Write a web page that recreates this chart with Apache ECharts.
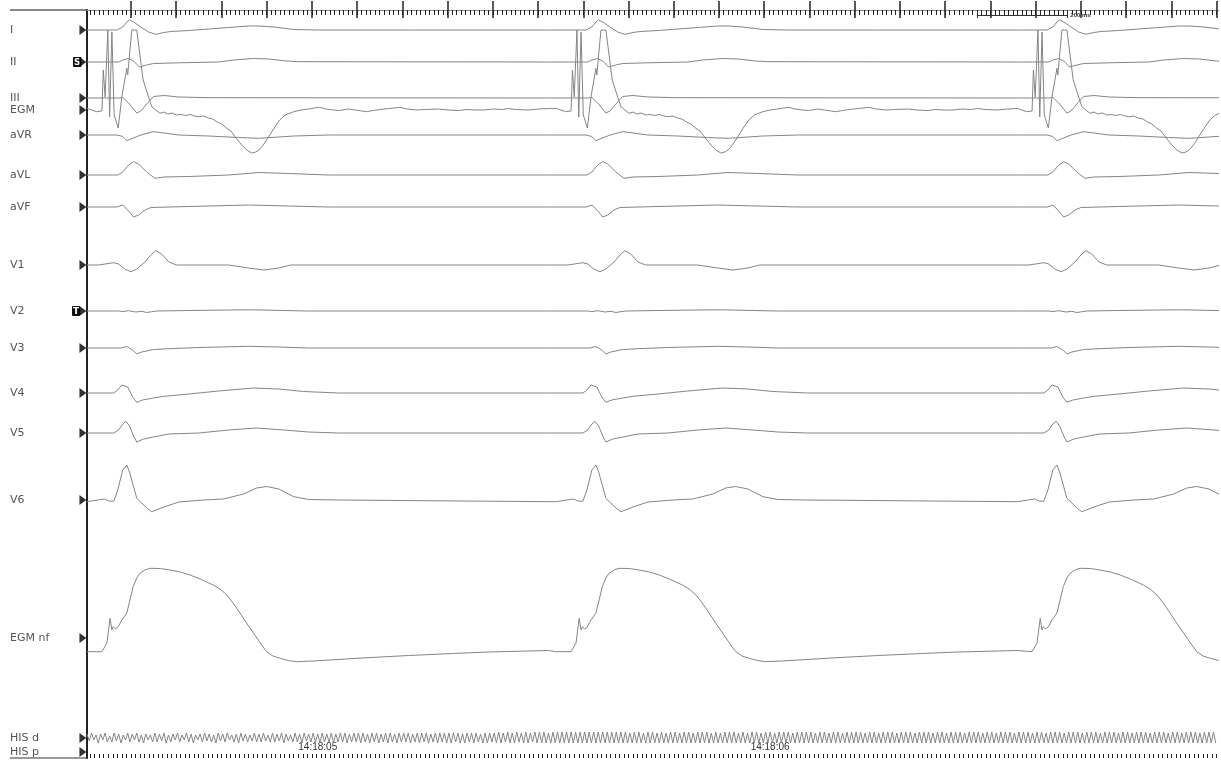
<!DOCTYPE html>
<html>
<head>
<meta charset="utf-8">
<script src="https://cdn.jsdelivr.net/npm/echarts@6/dist/echarts.min.js"></script>
<style>
  html, body { margin: 0; padding: 0; background: #fff; }
  #chart { width: 1221px; height: 761px; }
</style>
</head>
<body>
<div id="chart"></div>
<script>
  // channels, top to bottom
  const channelNames = ['I', 'II', 'III', 'EGM', 'aVR', 'aVL', 'aVF', 'V1', 'V2', 'V3', 'V4', 'V5', 'V6', 'EGM nf', 'HIS d', 'HIS p']
  // pacing spike of each beat, ms from left edge of the strip
  const beatTimes = [48, 1085, 2104]
  // one beat per channel: [ms from spike, deflection (up +)]
  const leadI = [[-48, 0], [18, 0], [22, 0.5], [31, 3], [40, 8], [46, 10], [55, 8], [71, 3], [88, -2], [104, -4.3], [122, -2.5], [137, -1.5], [177, -0.5], [221, 1], [265, 2.5], [309, 4], [332, 4], [365, 3], [409, 0.5], [464, 0], [663, 0], [972, 0]]
  const leadII = [[-48, 0], [22, 0], [31, 2], [44, 3.5], [55, 1], [68, -5], [84, -3], [99, -1.5], [155, -0.8], [243, 0], [276, 2], [320, 3.5], [354, 3], [393, 1], [420, 0.3], [972, 0]]
  const leadIII = [[-48, 0], [22, 0], [31, 0.5], [44, -5], [62, -15], [71, -13], [84, -6], [99, 1.5], [122, 2.5], [155, 1], [221, 0.3], [972, 0]]
  const egm = [[-48, 1.7], [-27, -1.7], [-15, -1], [-12, 40], [-8, 13], [-2, 80], [2, -7], [7, 78], [12, -5], [21, -18], [29, 13], [40, 41.7], [42, 35], [51, 80], [62, 80], [76, 30], [95, 3.3],
    [113, -3.3], [122, -2], [130, -4], [140, -3], [150, -5], [160, -4.5], [170, -5.5], [180, -4.5], [190, -6], [200, -6.7], [210, -6], [220, -8], [230, -9], [240, -12], [250, -14], [260, -18], [270, -21], [280, -27],
    [294, -35], [305, -40], [316, -43], [325, -42], [332, -40], [340, -36], [349, -30], [360, -22], [370, -15], [378, -10], [390, -5], [409, -1.7], [425, 0], [442, 1], [455, 2], [466, 2.7], [480, 1], [497, 0],
    [510, -0.5], [530, 1], [545, 0], [560, -1], [570, -1.7], [585, -0.5], [600, 0.5], [620, 1.5], [643, 2.7], [660, 1], [681, 0], [700, 0.5], [729, 1], [750, 0], [774, -0.5], [790, 0.5], [810, 0], [829, 0],
    [850, 1], [870, 0.5], [884, 1.5], [900, 0.5], [928, 0], [950, 1], [972, 1.5]]
  const aVR = [[-48, 0], [18, 0], [31, -1.5], [40, -5.7], [49, -4], [71, 0], [99, 3.3], [122, 2], [155, 0], [221, -1], [287, -2.5], [332, -3.3], [376, -2], [409, -1], [486, 0], [972, 0]]
  const aVL = [[-48, 0], [20, 0], [31, 3], [44, 10], [55, 13.3], [66, 11], [84, 3], [102, -3.3], [122, -2], [177, -1.5], [265, 0], [332, 2.5], [398, 1.5], [486, 0], [972, 0]]
  const aVF = [[-48, 0], [18, 0], [31, 2], [44, -4], [55, -10], [66, -8], [80, -3], [93, -0.5], [177, 0.5], [309, 2], [398, 1], [486, 0], [972, 0]]
  const v1 = [[-48, 0], [-22, 0], [11, 2.3], [22, 1], [35, -4], [49, -6.7], [62, -4], [80, 3], [93, 10], [104, 14.3], [117, 11], [133, 3], [150, 0], [265, 0], [309, -3], [343, -5], [376, -3], [402, 0], [972, 0]]
  const v2 = [[-48, 0], [22, 0], [31, -0.6], [44, 0.3], [60, -1], [73, -0.3], [84, -1.5], [95, -0.7], [106, 0], [177, 0.5], [265, 1], [320, 1.2], [387, 0.5], [442, 0], [972, 0]]
  const v3 = [[-48, 0], [27, 0], [40, 1.5], [53, -2], [62, -6], [73, -4], [99, -1.5], [133, -0.7], [199, 0.5], [309, 1.7], [376, 1], [442, 0], [972, 0]]
  const v4 = [[-48, 0], [11, 0], [20, 3], [29, 8], [33, 9.3], [42, 6], [53, -4], [62, -9.3], [75, -7], [99, -5], [122, -3.3], [177, -1], [243, 2], [320, 5], [376, 4], [431, 1.5], [508, 0], [972, 0]]
  const v5 = [[-48, 0], [11, 0], [22, 3], [31, 9], [38, 11.7], [46, 7], [55, -3], [62, -9], [77, -6], [99, -4], [133, -1], [199, 0], [265, 3], [327, 5], [387, 3], [442, 1], [508, 0], [972, 0]]
  const v6 = [[-48, -1.7], [-18, 0.5], [-9, 1], [0, -1], [11, -1.3], [20, 10], [31, 30], [40, 35], [46, 28], [57, 10], [62, 1.7], [73, -3], [84, -8], [95, -11.7], [122, -7], [155, -2], [210, 0], [254, 1], [298, 6], [327, 12], [349, 13.5], [376, 11], [409, 3.3], [442, 0.5], [508, 0], [972, -1.7]]
  const egmNf = [[-48, -13.7], [-15, -13.7], [-4, -5], [3, 19.7], [7, 8], [10, 11.3], [15, 9], [21, 11.3], [29, 18], [40, 25], [54, 51.3], [62, 60], [69, 64.7], [80, 68], [91, 69.7], [114, 69.5], [135, 68],
    [158, 66], [180, 63], [202, 59], [231, 53], [246, 49], [261, 43], [275, 35], [290, 25], [306, 14], [320, 5], [335, -5], [349, -13.7], [363, -18], [379, -20.3], [397, -22.5], [415, -23.7], [451, -23], [488, -22],
    [560, -20], [663, -17.5], [760, -15.5], [840, -14], [972, -12.5]]
  // HIS d, sampled every 5 ms
  const hisStep = 5
  const hisD = [
    4, -3, 5, -2, 3, -5, 4, -2, 5, -4, 2, -4, 5, -3, 4, -5, 3, -2, 5, -4,
    4, -2, 5, -4, 3, -5, 4, -2, 3, -4, 5, -4, 4, -3, 5, -5, 3, -4, 4, -2,
    5, -4, 3, -2, 5, -4, 4, -5, 3, -2, 4, -4, 5, -3, 4, -4, 3, -5, 5, -3,
    4, -4, 5, -2, 3, -4, 4, -5, 5, -3, 4, -4, 3, -3, 5, -4, 4, -4, 5, -3,
    3, -4, 5, -4, 4, -3, 5, -5, 4, -3, 3, -4, 5, -4, 4, -5, 5, -3, 4, -4,
    5, -4, 4, -5, 5, -4, 4, -4, 5, -5, 4, -4, 5, -4, 5, -5, 4, -4, 5, -4,
    5, -5, 5, -4, 4, -5, 5, -4, 5, -5, 4, -4, 5, -5, 5, -4, 4, -5, 5, -4,
    5, -4, 5, -5, 4, -4, 5, -5, 5, -4, 5, -5, 4, -4, 5, -5, 5, -4, 5, -5,
    5, -5, 5, -4, 5, -5, 4, -5, 5, -4, 5, -5, 5, -4, 4, -5, 5, -5, 5, -4,
    5, -5, 6, -5, 5, -4, 6, -5, 5, -5, 6, -4, 5, -5, 6, -5, 5, -4, 6, -5,
    6, -5, 6, -5, 5, -5, 6, -5, 6, -5, 6, -5, 6, -5, 6, -5, 6, -5, 6, -5,
    6, -5, 6, -5, 6, -5, 6, -5, 6, -5, 6, -5, 6, -5, 6, -5, 6, -5, 6, -5,
    5, -5, 6, -5, 6, -5, 5, -5, 6, -5, 6, -5, 5, -5, 6, -5, 5, -5, 6, -5,
    6, -5, 5, -5, 6, -5, 6, -5, 5, -5, 6, -5, 6, -5, 6, -5, 5, -5, 6, -5,
    5, -5, 6, -5, 6, -5, 6, -5, 5, -5, 6, -5, 5, -5, 6, -5, 6, -5, 5, -5,
    6, -5, 6, -5, 5, -5, 6, -5, 6, -5, 6, -5, 5, -5, 6, -5, 6, -5, 6, -5,
    6, -5, 5, -5, 6, -5, 6, -5, 5, -5, 6, -5, 6, -5, 5, -5, 6, -5, 6, -5,
    6, -5, 6, -5, 5, -5, 6, -5, 6, -5, 5, -5, 6, -5, 6, -5, 6, -5, 5, -5,
    6, -5, 6, -5, 6, -5, 5, -5, 6, -5, 6, -5, 6, -5, 5, -5, 6, -5, 6, -5,
    5, -5, 6, -5, 6, -5, 6, -5, 5, -5, 6, -5, 6, -5, 6, -5, 5, -5, 6, -5,
    6, -5, 5, -5, 6, -5, 6, -5, 6, -5, 5, -5, 6, -5, 6, -5, 6, -5, 5, -5,
    6, -5, 6, -5, 5, -5, 6, -5, 6, -5, 6, -5, 5, -5, 6, -5, 6, -5, 6, -5,
    5, -5, 6, -5, 6, -5, 6, -5, 5, -5, 6, -5, 6, -5, 6, -5, 5, -5, 6, -5,
    6, -5, 5, -5, 6, -5, 6, -5, 6, -5, 5, -5, 6, -5, 6, -5, 6, -5, 5, -5,
    6, -5, 6, -5, 5, -5, 6, -5, 6, -5, 6, -5, 5, -5, 6, -5, 6, -5, 6, -5
  ]
  // time stamps on the bottom ruler
  const timeLabels = ['14:18:05', '14:18:06']
  const timeLabelAt = [510, 1510]
  // 200 ms calibration bar
  const scaleBar = [1967, 2167]

  // lane positions (display units from top), same order as channelNames
  const lanes = [20, 52, 88, 100, 125, 165, 197, 255, 301, 338, 383, 423, 490, 628, 728, 742]
  const beatData = [leadI, leadII, leadIII, egm, aVR, aVL, aVF, v1, v2, v3, v4, v5, v6, egmNf]

  const majorTicks = []
  for (let t = 97; t <= 2500; t += 100) majorTicks.push(t)
  const minorTicks = []
  for (let t = 7; t <= 2500; t += 10) minorTicks.push(t)

  function beatTrace (tpl, lane) {
    const pts = []
    beatTimes.forEach(b => {
      tpl.forEach(([t, a]) => {
        const x = b + t
        if (!pts.length || x > pts[pts.length - 1][0]) pts.push([x, lane - a])
      })
    })
    return pts
  }

  const traceStyle = { color: '#858585', width: 1 }
  const series = beatData.map((tpl, i) => ({
    name: channelNames[i],
    type: 'line',
    showSymbol: false,
    silent: true,
    lineStyle: traceStyle,
    data: beatTrace(tpl, lanes[i])
  }))
  series.push({
    name: 'HIS d',
    type: 'line',
    showSymbol: false,
    silent: true,
    lineStyle: traceStyle,
    data: hisD.map((v, i) => [i * hisStep, lanes[14] - v])
  })
  // lane arrows
  series.push({
    type: 'scatter',
    clip: false,
    silent: true,
    symbol: 'triangle',
    symbolRotate: -90,
    symbolSize: [10, 7],
    itemStyle: { color: '#000' },
    data: lanes.map(l => [-9, l])
  })
  // 200 ms bar
  series[0].markLine = {
    silent: true,
    symbol: 'none',
    animation: false,
    lineStyle: { color: '#333', width: 1, type: 'solid' },
    label: { show: true, position: 'end', formatter: p => p.name, fontSize: 6, fontWeight: 'bold', color: '#333', distance: 3 },
    data: [
      [{ name: '200 ms', coord: [scaleBar[0], 5] }, { coord: [scaleBar[1], 5] }],
      [{ name: '', coord: [scaleBar[0], 2] }, { coord: [scaleBar[0], 8] }],
      [{ name: '', coord: [scaleBar[1], 0] }, { coord: [scaleBar[1], 8] }]
    ]
  }

  function laneLabel (value) {
    const i = lanes.indexOf(value)
    const name = channelNames[i]
    if (name === 'II') return '{n|II}{s|S}'
    if (name === 'V2') return '{m|V2}{s|T}'
    return name
  }

  const rulerAxis = (pos, ticks, len, width, line, label) => ({
    type: 'value',
    min: 0,
    max: 2500,
    position: pos,
    axisLine: line,
    axisTick: { show: true, inside: true, length: len, customValues: ticks, lineStyle: { color: '#222', width: width } },
    axisLabel: label || { show: false },
    splitLine: { show: false }
  })

  const chart = echarts.init(document.getElementById('chart'))
  const option = {
    animation: false,
    grid: { left: 87, right: 3, top: 10, bottom: 3 },
    xAxis: [
      rulerAxis('bottom', majorTicks, 9, 1.5, { show: true, lineStyle: { color: '#333', width: 1 } }, {
        show: true,
        inside: true,
        margin: 6,
        customValues: timeLabelAt,
        formatter: v => timeLabels[timeLabelAt.indexOf(v)],
        fontFamily: 'Liberation Sans',
        fontSize: 10,
        color: '#333'
      }),
      rulerAxis('bottom', minorTicks, 4, 1, { show: false }),
      rulerAxis('top', majorTicks, 8, 1.5, { show: true, lineStyle: { color: '#888', width: 1 } }),
      rulerAxis('top', minorTicks, 5, 1, { show: false })
    ],
    yAxis: {
      type: 'value',
      min: 0,
      max: 748,
      inverse: true,
      axisLine: { show: true, lineStyle: { color: '#222', width: 2 } },
      axisTick: { show: false },
      splitLine: { show: false },
      axisLabel: {
        show: true,
        customValues: lanes,
        formatter: laneLabel,
        align: 'left',
        margin: 77,
        fontFamily: 'DejaVu Sans',
        fontSize: 11,
        color: '#555',
        rich: {
          n: { width: 63, fontFamily: 'DejaVu Sans', fontSize: 11, color: '#555' },
          m: { width: 62, fontFamily: 'DejaVu Sans', fontSize: 11, color: '#555' },
          s: { backgroundColor: '#111', color: '#fff', fontFamily: 'DejaVu Sans', fontSize: 9, fontWeight: 'bold', padding: [1, 1, 0, 1], lineHeight: 10, borderRadius: 1 }
        }
      }
    },
    graphic: [
      { type: 'line', shape: { x1: 10, y1: 10, x2: 87, y2: 10 }, style: { stroke: '#888', lineWidth: 2 }, silent: true },
      { type: 'line', shape: { x1: 10, y1: 758, x2: 87, y2: 758 }, style: { stroke: '#333', lineWidth: 1 }, silent: true }
    ],
    series: series
  }
  option && chart.setOption(option)
</script>
</body>
</html>
